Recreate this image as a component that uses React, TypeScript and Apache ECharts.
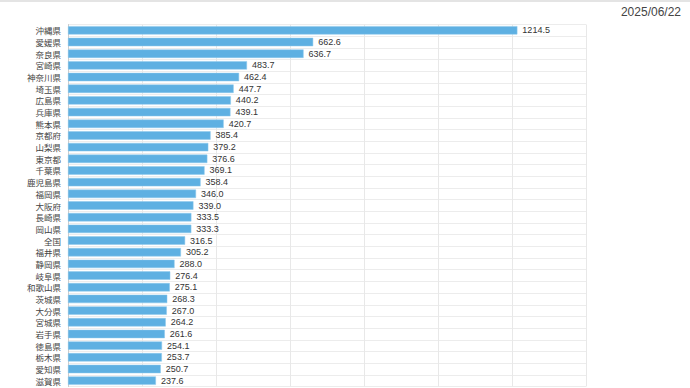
import React, { useEffect, useRef } from "react";
import * as echarts from "echarts";

const categories = [
  "沖縄県", "愛媛県", "奈良県", "宮崎県", "神奈川県", "埼玉県", "広島県", "兵庫県", "熊本県",
  "京都府", "山梨県", "東京都", "千葉県", "鹿児島県", "福岡県", "大阪府", "長崎県", "岡山県",
  "全国", "福井県", "静岡県", "岐阜県", "和歌山県", "茨城県", "大分県", "宮城県", "岩手県",
  "徳島県", "栃木県", "愛知県", "滋賀県",
];
const values = [
  1214.5, 662.6, 636.7, 483.7, 462.4, 447.7, 440.2, 439.1, 420.7,
  385.4, 379.2, 376.6, 369.1, 358.4, 346.0, 339.0, 333.5, 333.3,
  316.5, 305.2, 288.0, 276.4, 275.1, 268.3, 267.0, 264.2, 261.6,
  254.1, 253.7, 250.7, 237.6,
];
const dateLabel = "2025/06/22";
const xMax = 1400;
const xInterval = 200;

export default function App() {
  const ref = useRef<HTMLDivElement>(null);
  useEffect(() => {
    if (!ref.current) return;
    const chart = echarts.init(ref.current, undefined, { renderer: "svg" });
    chart.setOption({
      animation: false,
      backgroundColor: "#ffffff",
      textStyle: { fontFamily: "'Noto Sans CJK JP', 'Liberation Sans', sans-serif" },
      graphic: [
        { type: "rect", shape: { x: 0, y: 0, width: 690, height: 2 }, style: { fill: "#e4e4e4" } },
        {
          type: "text",
          right: 9,
          top: 6,
          style: {
            text: dateLabel,
            fill: "#444",
            font: "12px 'Liberation Sans', Arial, sans-serif",
          },
        },
      ],
      grid: { left: 68, right: 104, top: 24.5, bottom: 1.5, containLabel: false },
      xAxis: {
        type: "value",
        min: 0,
        max: xMax,
        interval: xInterval,
        axisLabel: { show: false },
        axisLine: { show: false },
        axisTick: { show: false },
        splitLine: { show: true, lineStyle: { color: "#e8e8e8", width: 1 } },
      },
      yAxis: {
        type: "category",
        inverse: true,
        data: categories,
        axisLine: { show: true, lineStyle: { color: "#cccccc" } },
        axisTick: { show: false, interval: 0 },
        axisLabel: {
          interval: 0,
          color: "#444",
          fontSize: 8.5,
          margin: 7,
          fontFamily: "'Noto Sans CJK JP', sans-serif",
        },
        splitLine: { show: true, interval: 0, lineStyle: { color: "#ececec", width: 1 } },
      },
      series: [
        {
          type: "bar",
          data: values,
          barCategoryGap: "28%",
          itemStyle: { color: "#5eb0e2", borderColor: "#8cc8ec", borderWidth: 0.5 },
          label: {
            show: true,
            position: "right",
            distance: 5,
            color: "#333",
            fontSize: 9,
            fontFamily: "'Liberation Sans', Arial, sans-serif",
            formatter: (p: any) => Number(p.value).toFixed(1),
          },
        },
      ],
    });
    return () => chart.dispose();
  }, []);
  return (
    <div
      ref={ref}
      style={{ position: "fixed", left: 0, top: 0, width: 690, height: 388 }}
    />
  );
}
